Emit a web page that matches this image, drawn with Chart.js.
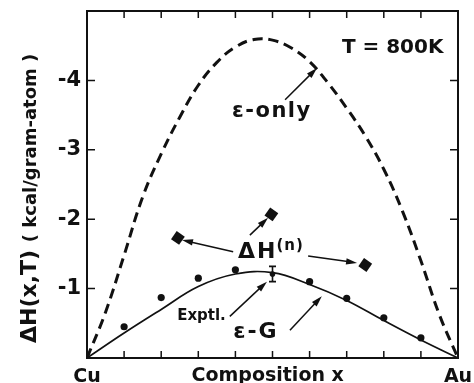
<!DOCTYPE html>
<html>
<head>
<meta charset="utf-8">
<script src="https://cdn.jsdelivr.net/npm/chart.js@4.4.1/dist/chart.umd.min.js"></script>
<style>
  html, body { margin: 0; padding: 0; background: #fff; }
  #wrap { width: 474px; height: 383px; }
</style>
</head>
<body>
<div id="wrap"><canvas id="c" width="474" height="383"></canvas></div>
<script>
// ---- data ----
const epsOnlyX = [0, 0.05, 0.1, 0.15, 0.2, 0.25, 0.3, 0.35, 0.4, 0.45, 0.5, 0.55, 0.6, 0.65, 0.7, 0.75, 0.8, 0.85, 0.9, 0.95, 1];
const epsOnlyY = [0, -0.66, -1.48, -2.32, -2.94, -3.47, -3.93, -4.26, -4.48, -4.59, -4.58, -4.47, -4.27, -3.96, -3.60, -3.20, -2.72, -2.12, -1.40, -0.62, 0];
const epsGX = [0, 0.1, 0.2, 0.3, 0.4, 0.5, 0.6, 0.7, 0.8, 0.9, 1];
const epsGY = [0, -0.36, -0.70, -1.03, -1.21, -1.23, -1.06, -0.83, -0.54, -0.26, 0];
const dotX = [0.1, 0.2, 0.3, 0.4, 0.6, 0.7, 0.8, 0.9];
const dotY = [-0.45, -0.87, -1.15, -1.27, -1.1, -0.86, -0.58, -0.29];
const exptX = [0.5];
const exptY = [-1.21];
const exptErr = [0.11];
const dHnX = [0.245, 0.497, 0.75];
const dHnY = [-1.73, -2.07, -1.34];
const xTicks = [0, 0.1, 0.2, 0.3, 0.4, 0.5, 0.6, 0.7, 0.8, 0.9, 1];
const yTicks = [-5, -4, -3, -2, -1, 0];
const yTickLabels = ['', '-4', '-3', '-2', '-1', ''];
const xTickLabels = ['Cu', '', '', '', '', '', '', '', '', '', 'Au'];

const FONT = "'DejaVu Sans', 'Liberation Sans', Arial, sans-serif";
const pts = (xs, ys) => xs.map((x, i) => ({x: x, y: ys[i]}));

// annotation texts / arrows (data coordinates)
const labels = [
  {text: 'T = 800K', x: 0.687, y: -4.39, size: 20, ls: 0},
  {text: 'ε-only', x: 0.391, y: -3.47, size: 21, ls: 1.5},
  {text: 'ΔH', x: 0.407, y: -1.44, size: 22, ls: 2, sup: '(n)', supSize: 15, supRise: 8},
  {text: 'Exptl.', x: 0.243, y: -0.55, size: 15, ls: 0},
  {text: 'ε-G', x: 0.394, y: -0.29, size: 22, ls: 2}
];
const arrows = [
  [0.534, -3.72, 0.620, -4.18],
  [0.394, -1.53, 0.256, -1.70],
  [0.439, -1.77, 0.488, -2.02],
  [0.596, -1.47, 0.728, -1.37],
  [0.385, -0.60, 0.485, -1.10],
  [0.547, -0.40, 0.633, -0.89]
];

function arrow(ctx, x1, y1, x2, y2) {
  const ang = Math.atan2(y2 - y1, x2 - x1);
  const L = 11, W = 3.2;
  ctx.beginPath();
  ctx.moveTo(x1, y1);
  ctx.lineTo(x2 - Math.cos(ang) * L * 0.7, y2 - Math.sin(ang) * L * 0.7);
  ctx.stroke();
  ctx.beginPath();
  ctx.moveTo(x2, y2);
  ctx.lineTo(x2 - Math.cos(ang) * L + Math.sin(ang) * W, y2 - Math.sin(ang) * L - Math.cos(ang) * W);
  ctx.lineTo(x2 - Math.cos(ang) * L - Math.sin(ang) * W, y2 - Math.sin(ang) * L + Math.cos(ang) * W);
  ctx.closePath();
  ctx.fill();
}

const decor = {
  id: 'decor',
  afterDraw(chart) {
    const ctx = chart.ctx, a = chart.chartArea;
    const xs = chart.scales.x, ys = chart.scales.y;
    ctx.save();
    ctx.strokeStyle = '#111'; ctx.fillStyle = '#111';
    // frame
    ctx.lineWidth = 2;
    ctx.strokeRect(a.left, a.top, a.right - a.left, a.bottom - a.top);
    // inward ticks
    ctx.lineWidth = 1.5;
    ctx.beginPath();
    xTicks.slice(1, -1).forEach(v => {
      const p = xs.getPixelForValue(v);
      ctx.moveTo(p, a.bottom); ctx.lineTo(p, a.bottom - 7);
      ctx.moveTo(p, a.top); ctx.lineTo(p, a.top + 7);
    });
    yTicks.slice(1, -1).forEach(v => {
      const p = ys.getPixelForValue(v);
      ctx.moveTo(a.left, p); ctx.lineTo(a.left + 8, p);
      ctx.moveTo(a.right, p); ctx.lineTo(a.right - 8, p);
    });
    ctx.stroke();
    // error bar
    ctx.lineWidth = 1.6;
    exptX.forEach((x, i) => {
      const px = xs.getPixelForValue(x);
      const t = ys.getPixelForValue(exptY[i] - exptErr[i]);
      const b = ys.getPixelForValue(exptY[i] + exptErr[i]);
      ctx.beginPath();
      ctx.moveTo(px, t); ctx.lineTo(px, b);
      ctx.moveTo(px - 3.5, t); ctx.lineTo(px + 3.5, t);
      ctx.moveTo(px - 3.5, b); ctx.lineTo(px + 3.5, b);
      ctx.stroke();
    });
    // labels
    ctx.textAlign = 'left'; ctx.textBaseline = 'alphabetic';
    labels.forEach(l => {
      ctx.font = 'bold ' + l.size + 'px ' + FONT;
      ctx.letterSpacing = l.ls + 'px';
      const px = xs.getPixelForValue(l.x), py = ys.getPixelForValue(l.y);
      ctx.fillText(l.text, px, py);
      if (l.sup) {
        const w = ctx.measureText(l.text).width;
        ctx.font = 'bold ' + l.supSize + 'px ' + FONT;
        ctx.letterSpacing = '1px';
        ctx.fillText(l.sup, px + w - 1, py - l.supRise);
      }
    });
    ctx.letterSpacing = '0px';
    // arrows
    ctx.lineWidth = 1.5;
    arrows.forEach(r => arrow(ctx, xs.getPixelForValue(r[0]), ys.getPixelForValue(r[1]), xs.getPixelForValue(r[2]), ys.getPixelForValue(r[3])));
    // x title
    ctx.font = 'bold 19px ' + FONT;
    ctx.textAlign = 'center';
    ctx.fillText('Composition x', xs.getPixelForValue(0.487), 381);
    // y title
    ctx.translate(36, 343);
    ctx.rotate(-Math.PI / 2);
    ctx.textAlign = 'left';
    ctx.font = 'bold 22px ' + FONT;
    ctx.fillText('ΔH(x,T)', 0, 0);
    const w1 = ctx.measureText('ΔH(x,T) ').width;
    ctx.font = 'bold 18px ' + FONT;
    ctx.fillText('( kcal/gram-atom )', w1, 0);
    ctx.restore();
  }
};

new Chart(document.getElementById('c'), {
  type: 'scatter',
  data: {
    datasets: [
      {data: pts(epsOnlyX, epsOnlyY), showLine: true, borderColor: '#111', borderWidth: 3, borderDash: [10, 6], pointRadius: 0, tension: 0.4},
      {data: pts(epsGX, epsGY), showLine: true, borderColor: '#111', borderWidth: 1.7, pointRadius: 0, tension: 0.4},
      {data: pts(dotX, dotY), showLine: false, pointRadius: 3.6, pointBackgroundColor: '#111', pointBorderColor: '#111', pointBorderWidth: 0},
      {data: pts(exptX, exptY), showLine: false, pointRadius: 2.8, pointBackgroundColor: '#111', pointBorderColor: '#111', pointBorderWidth: 0},
      {data: pts(dHnX, dHnY), showLine: false, pointStyle: 'rect', pointRotation: 35, pointRadius: 7, pointBackgroundColor: '#111', pointBorderColor: '#111', pointBorderWidth: 0}
    ]
  },
  options: {
    responsive: false,
    animation: false,
    devicePixelRatio: 1,
    layout: {padding: {top: 11, right: 16, left: 0, bottom: 0}},
    plugins: {legend: {display: false}, tooltip: {enabled: false}},
    scales: {
      x: {
        type: 'linear', min: 0, max: 1,
        afterBuildTicks: s => { s.ticks = xTicks.map(v => ({value: v})); },
        afterFit: s => { s.height = 25; s.paddingLeft = 0; s.paddingRight = 0; },
        grid: {display: false, drawTicks: false},
        border: {display: false},
        ticks: {
          autoSkip: false, maxRotation: 0, padding: 8, color: '#111',
          font: {family: FONT, size: 19, weight: 'bold'},
          callback: (v, i) => xTickLabels[i]
        }
      },
      y: {
        type: 'linear', min: -5, max: 0, reverse: true,
        afterBuildTicks: s => { s.ticks = yTicks.map(v => ({value: v})); },
        afterFit: s => { s.width = 87; s.paddingTop = 0; s.paddingBottom = 0; },
        grid: {display: false, drawTicks: false},
        border: {display: false},
        ticks: {
          autoSkip: false, padding: 6, color: '#111',
          font: {family: FONT, size: 21, weight: 'bold'},
          callback: (v, i) => yTickLabels[i]
        }
      }
    }
  },
  plugins: [decor]
});
</script>
</body>
</html>
